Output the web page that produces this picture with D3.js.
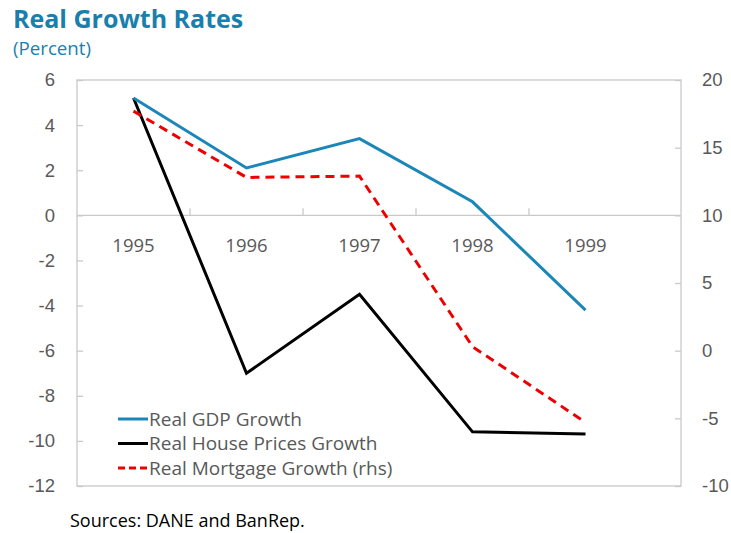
<!DOCTYPE html>
<html>
<head>
	<title>Real Growth Rates</title>
	<script src="https://cdn.jsdelivr.net/npm/d3@7"></script>
	<style>
	body{
		margin: 0;
		background: #ffffff;
		font-family: "Open Sans", "Noto Sans", Arial;
	}
	.tick text{
		fill: #595959;
		font-size: 18.5px;
	}
	</style>
</head>
<body>
	<div id="chart"></div>
	<script>
		var years = ["1995", "1996", "1997", "1998", "1999"];
		var gdpGrowth = [5.2, 2.1, 3.4, 0.6, -4.2];
		var housePriceGrowth = [5.2, -7.0, -3.5, -9.6, -9.7];
		var mortgageGrowth = [17.7, 12.8, 12.9, 0.3, -5.3];
		var leftTicks = [6, 4, 2, 0, -2, -4, -6, -8, -10, -12];
		var rightTicks = [20, 15, 10, 5, 0, -5, -10];

		var width = 731, height = 533;
		var plot = {left: 77, right: 681, top: 80, bottom: 486};
		// categories only take up part of the frame, like the original
		var bandWidth = 113;

		var svg = d3.select("#chart").append("svg")
			.attr("width", width)
			.attr("height", height);

		var x = d3.scaleBand()
			.domain(years)
			.range([plot.left, plot.left + bandWidth * years.length]);
		var yLeft = d3.scaleLinear().domain([-12, 6]).range([plot.bottom, plot.top]);
		var yRight = d3.scaleLinear().domain([-10, 20]).range([plot.bottom, plot.top]);

		// title
		svg.append("text")
			.attr("x", 13).attr("y", 28)
			.attr("fill", "#1a7fad")
			.attr("font-size", "25px")
			.attr("font-weight", "bold")
			.text("Real Growth Rates");
		svg.append("text")
			.attr("x", 13).attr("y", 55)
			.attr("fill", "#1a7fad")
			.attr("font-size", "18.7px")
			.text("(Percent)");

		// frame
		svg.append("rect")
			.attr("x", plot.left).attr("y", plot.top)
			.attr("width", plot.right - plot.left)
			.attr("height", plot.bottom - plot.top)
			.attr("fill", "none")
			.attr("stroke", "#c9c9c9")
			.attr("stroke-width", 1.3);

		// left axis, ticks pointing inward
		var leftAxis = svg.append("g")
			.attr("transform", "translate(" + plot.left + ",0)")
			.call(d3.axisRight(yLeft).tickValues(leftTicks).tickSize(6).tickFormat(d3.format("d")));
		leftAxis.select(".domain").remove();
		leftAxis.selectAll(".tick line").attr("stroke", "#c9c9c9").attr("stroke-width", 1.3);
		leftAxis.selectAll(".tick text")
			.attr("x", -22)
			.attr("text-anchor", "end")
			.text(function(d){ return d < 0 ? "-" + Math.abs(d) : d; });

		// right axis
		var rightAxis = svg.append("g")
			.attr("transform", "translate(" + plot.right + ",0)")
			.call(d3.axisLeft(yRight).tickValues(rightTicks).tickSize(6).tickFormat(d3.format("d")));
		rightAxis.select(".domain").remove();
		rightAxis.selectAll(".tick line").attr("stroke", "#c9c9c9").attr("stroke-width", 1.3);
		rightAxis.selectAll(".tick text")
			.attr("x", 21)
			.attr("text-anchor", "start")
			.text(function(d){ return d < 0 ? "-" + Math.abs(d) : d; });

		// zero line and category separators
		var zeroY = yLeft(0);
		svg.append("line")
			.attr("x1", plot.left).attr("x2", plot.right)
			.attr("y1", zeroY).attr("y2", zeroY)
			.attr("stroke", "#c9c9c9")
			.attr("stroke-width", 1.3);
		svg.selectAll(".sep")
			.data(years.slice(1))
			.enter().append("line")
			.attr("class", "sep")
			.attr("x1", function(d){ return x(d); })
			.attr("x2", function(d){ return x(d); })
			.attr("y1", zeroY).attr("y2", zeroY - 7)
			.attr("stroke", "#c9c9c9")
			.attr("stroke-width", 1.3);

		svg.selectAll(".year")
			.data(years)
			.enter().append("text")
			.attr("class", "year")
			.attr("x", function(d){ return x(d) + x.bandwidth() / 2; })
			.attr("y", zeroY + 37)
			.attr("text-anchor", "middle")
			.attr("fill", "#595959")
			.attr("font-size", "18.5px")
			.text(function(d){ return d; });

		var cx = function(d, i){ return x(years[i]) + x.bandwidth() / 2; };

		var series = [
			{name: "Real GDP Growth", values: gdpGrowth, scale: yLeft, color: "#1a87b8", dash: null},
			{name: "Real House Prices Growth", values: housePriceGrowth, scale: yLeft, color: "#000000", dash: null},
			{name: "Real Mortgage Growth (rhs)", values: mortgageGrowth, scale: yRight, color: "#ee0000", dash: "9,6"}
		];

		// draw black first so blue sits on top at 1995, red last
		[1, 0, 2].forEach(function(k){
			var s = series[k];
			var line = d3.line()
				.x(cx)
				.y(function(d){ return s.scale(d); });
			svg.append("path")
				.datum(s.values)
				.attr("d", line)
				.attr("fill", "none")
				.attr("stroke", s.color)
				.attr("stroke-width", 3)
				.attr("stroke-dasharray", s.dash);
		});

		// legend
		var legend = svg.selectAll(".legend")
			.data(series)
			.enter().append("g")
			.attr("class", "legend")
			.attr("transform", function(d, i){ return "translate(118," + (419 + i * 24.5) + ")"; });
		legend.append("line")
			.attr("x1", 0).attr("x2", 30)
			.attr("y1", 0).attr("y2", 0)
			.attr("stroke", function(d){ return d.color; })
			.attr("stroke-width", 3)
			.attr("stroke-dasharray", function(d){ return d.dash ? "7,4" : null; });
		legend.append("text")
			.attr("x", 31).attr("y", 6.5)
			.attr("fill", "#595959")
			.attr("font-size", "19px")
			.text(function(d){ return d.name; });

		svg.append("text")
			.attr("x", 70).attr("y", 527)
			.attr("fill", "#000000")
			.attr("font-size", "18px")
			.text("Sources: DANE and BanRep.");
	</script>
</body>
</html>
